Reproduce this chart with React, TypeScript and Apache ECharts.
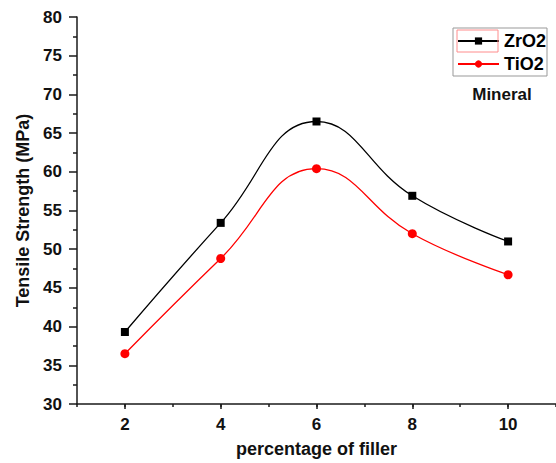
import React, { useEffect, useRef } from "react";
import * as echarts from "echarts";

const xCategories = ["1", "2", "3", "4", "5", "6", "7", "8", "9", "10", "11"];
const fillerPercent = ["2", "4", "6", "8", "10"];
const zro2Values = [39.3, 53.4, 66.5, 56.9, 51.0];
const tio2Values = [36.5, 48.8, 60.4, 52.0, 46.7];
const seriesNames = ["ZrO2", "TiO2"];
const annotation = "Mineral";
const xTitle = "percentage of filler";
const yTitle = "Tensile Strength (MPa)";

const FONT = "'Liberation Sans', Arial, sans-serif";

export default function App() {
  const ref = useRef<HTMLDivElement>(null);
  useEffect(() => {
    document.body.style.margin = "0";
    const chart = echarts.init(ref.current!, null, { renderer: "svg" });
    const axisColor = "#1a1a1a";
    chart.setOption({
      animation: false,
      backgroundColor: "#fff",
      textStyle: { fontFamily: FONT },
      grid: { left: 77, right: -5, top: 17, bottom: 55, containLabel: false },
      legend: {
        orient: "vertical",
        left: 453,
        top: 28,
        padding: [4, 1, 3, 4],
        itemGap: 5,
        itemWidth: 41,
        itemHeight: 9,
        borderColor: "#999",
        borderWidth: 1,
        textStyle: { fontSize: 18, fontWeight: "bold", color: "#000", fontFamily: FONT },
        data: seriesNames,
      },
      xAxis: [
        {
          type: "category",
          data: xCategories,
          boundaryGap: false,
          axisLine: { lineStyle: { color: axisColor, width: 1.5 } },
          axisTick: { show: true, length: 5, interval: (i: number) => i % 2 === 1, lineStyle: { color: axisColor, width: 1.5 } },
          axisLabel: {
            interval: (i: number) => i % 2 === 1,
            margin: 12,
            fontSize: 17,
            fontWeight: "bold",
            color: "#111",
            fontFamily: FONT,
          },
          name: xTitle,
          nameLocation: "middle",
          nameGap: 36,
          nameTextStyle: { fontSize: 18, fontWeight: "bold", color: "#111", fontFamily: FONT },
          splitLine: { show: false },
        },
        {
          type: "category",
          data: xCategories,
          boundaryGap: false,
          position: "bottom",
          axisLine: { show: false },
          axisTick: { show: true, length: 3, interval: 0, lineStyle: { color: axisColor, width: 1.5 } },
          axisLabel: { show: false },
          splitLine: { show: false },
        },
      ],
      yAxis: {
        type: "value",
        min: 30,
        max: 80,
        interval: 5,
        axisLine: { show: true, lineStyle: { color: axisColor, width: 1.5 } },
        axisTick: { show: true, length: 8, lineStyle: { color: axisColor, width: 1.5 } },
        minorTick: { show: true, splitNumber: 2, length: 4, lineStyle: { color: axisColor, width: 1.5 } },
        axisLabel: { margin: 15, fontSize: 17, fontWeight: "bold", color: "#111", fontFamily: FONT },
        splitLine: { show: false },
        name: yTitle,
        nameLocation: "middle",
        nameGap: 44,
        nameTextStyle: { fontSize: 18, fontWeight: "bold", color: "#111", fontFamily: FONT },
      },
      graphic: [
        {
          type: "rect",
          shape: { x: 457, y: 30, width: 41, height: 22 },
          style: { fill: "none", stroke: "#ff8c8c", lineWidth: 1 },
          z: 100,
        },
        {
          type: "text",
          x: 502,
          y: 94,
          style: {
            text: annotation,
            fontSize: 17,
            fontWeight: "bold",
            fill: "#111",
            fontFamily: FONT,
            align: "center",
            verticalAlign: "middle",
          },
        },
      ],
      series: [
        {
          name: seriesNames[0],
          type: "line",
          smooth: 0.45,
          symbol: "rect",
          symbolSize: 8,
          itemStyle: { color: "#000" },
          lineStyle: { color: "#000", width: 1.3 },
          data: fillerPercent.map((f, i) => [f, zro2Values[i]]),
        },
        {
          name: seriesNames[1],
          type: "line",
          smooth: 0.45,
          symbol: "circle",
          symbolSize: 9,
          itemStyle: { color: "#ff0000" },
          lineStyle: { color: "#ff0000", width: 1.3 },
          data: fillerPercent.map((f, i) => [f, tio2Values[i]]),
        },
      ],
    });
    return () => chart.dispose();
  }, []);
  return <div ref={ref} style={{ width: 556, height: 463 }} />;
}
